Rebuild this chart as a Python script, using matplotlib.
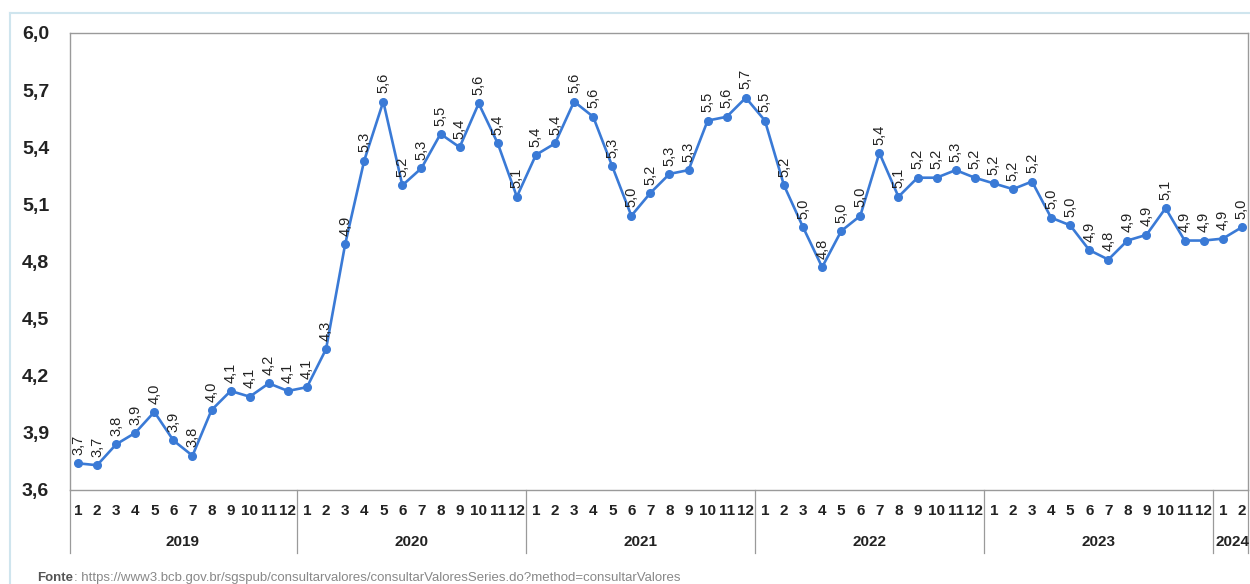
import matplotlib
matplotlib.use("Agg")
import matplotlib.pyplot as plt
from matplotlib.lines import Line2D
import matplotlib.transforms as mtransforms

# Valores mensais por ano
taxa_2019 = [3.74, 3.73, 3.84, 3.90, 4.01, 3.86, 3.78, 4.02, 4.12, 4.09, 4.16, 4.12]
taxa_2020 = [4.14, 4.34, 4.89, 5.33, 5.64, 5.20, 5.29, 5.47, 5.40, 5.63, 5.42, 5.14]
taxa_2021 = [5.36, 5.42, 5.64, 5.56, 5.30, 5.04, 5.16, 5.26, 5.28, 5.54, 5.56, 5.66]
taxa_2022 = [5.54, 5.20, 4.98, 4.77, 4.96, 5.04, 5.37, 5.14, 5.24, 5.24, 5.28, 5.24]
taxa_2023 = [5.21, 5.18, 5.22, 5.03, 4.99, 4.86, 4.81, 4.91, 4.94, 5.08, 4.91, 4.91]
taxa_2024 = [4.92, 4.98]

anos = ["2019", "2020", "2021", "2022", "2023", "2024"]
series = [taxa_2019, taxa_2020, taxa_2021, taxa_2022, taxa_2023, taxa_2024]
yticks = [3.6, 3.9, 4.2, 4.5, 4.8, 5.1, 5.4, 5.7, 6.0]

valores = []
meses = []
for s in series:
    valores += s
    meses += [str(m) for m in range(1, len(s) + 1)]
x = list(range(len(valores)))

plt.rcParams['font.family'] = ['Liberation Sans', 'DejaVu Sans']

fig = plt.figure(figsize=(12.5, 5.84), dpi=100)
ax = fig.add_axes([0.056, 0.161, 0.9424, 0.7825])

cor = "#3a7ad6"
ax.plot(x, valores, color=cor, lw=1.9, marker="o", ms=5.5, zorder=3)

for xi, v in zip(x, valores):
    ax.annotate(f"{v:.1f}".replace(".", ","), (xi, v), xytext=(0, 6),
                textcoords="offset points", rotation=90, ha="center",
                va="bottom", fontsize=10.5, color="#222222")

ax.set_xlim(-0.42, 61.32)
ax.set_ylim(3.6, 6.0)
ax.set_yticks(yticks)
ax.set_yticklabels([f"{t:.1f}".replace(".", ",") for t in yticks],
                   fontsize=14, fontweight="bold", color="#222222")
ax.set_xticks(x)
ax.set_xticklabels(meses, fontsize=11, fontweight="bold", color="#222222")
ax.tick_params(axis="both", length=0)
ax.tick_params(axis="x", pad=10)
ax.tick_params(axis="y", pad=15)

for sp in ax.spines.values():
    sp.set_color("#9a9a9a")
    sp.set_linewidth(1.0)

# separadores e rótulos de ano
trans = mtransforms.blended_transform_factory(ax.transData, ax.transAxes)
inicio = 0
bordas = [-0.42]
for ano, s in zip(anos, series):
    fim = inicio + len(s)
    ax.text((inicio + fim - 1) / 2, -0.113, ano, transform=trans, ha="center",
            va="center", fontsize=11, fontweight="bold", color="#222222")
    bordas.append(fim - 0.5 if fim < len(valores) else 61.32)
    inicio = fim
for b in bordas:
    ax.add_line(Line2D([b, b], [0, -0.137], transform=trans, color="#9a9a9a",
                       lw=0.9, clip_on=False))

# moldura azul clara
fig.add_artist(Line2D([0.008, 1.0], [0.978, 0.978], transform=fig.transFigure,
                      color="#cfe5ee", lw=1.5))
fig.add_artist(Line2D([0.008, 0.008], [0.0, 0.978], transform=fig.transFigure,
                      color="#cfe5ee", lw=1.5))

fonte = fig.text(0.03, 0.01, "Fonte", fontsize=9.5, fontweight="bold",
                 color="#555555", va="center")
ax.annotate(": https://www3.bcb.gov.br/sgspub/consultarvalores/consultarValoresSeries.do?method=consultarValores",
            xy=(1, 0.5), xycoords=fonte, va="center", ha="left",
            fontsize=9.5, color="#888888", annotation_clip=False)

fig.savefig("out.png", dpi=100)
